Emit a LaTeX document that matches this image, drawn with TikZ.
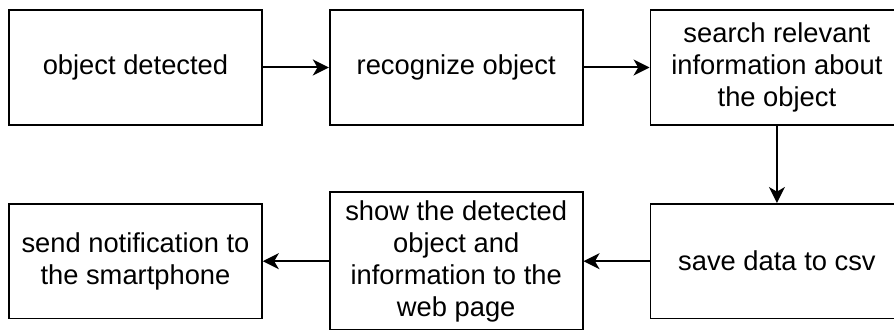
\documentclass[tikz,border=0pt]{standalone}
\usepackage{fontspec}
\setmainfont{Liberation Sans}
\usetikzlibrary{positioning,arrows.meta}

\tikzset{
  stepbox/.style={draw, line width=1.3pt, minimum width=189.75pt, minimum height=86pt,
    align=center, inner sep=2pt, font=\fontsize{20.5}{24}\selectfont},
  flow/.style={line width=1.5pt, -{Stealth[length=12pt,width=12pt,inset=3.5pt]}}
}

\begin{document}
\begin{tikzpicture}[node distance=49.5pt and 49.5pt]
\useasboundingbox (0,0) rectangle (670.5pt,-246.75pt);
\node[stepbox] (detect) at (101.6pt,-50.6pt) {object detected};
\node[stepbox, right=of detect] (recog) {recognize object};
\node[stepbox, right=of recog] (search) {search relevant\\information about\\the object};
\node[stepbox, below=58pt of search] (save) {save data to csv};
\node[stepbox, left=of save, minimum height=103.5pt] (show) {show the detected\\object and\\information to the\\web page};
\node[stepbox, left=of show] (notify) {send notification to\\the smartphone};

\draw[flow] (detect) -- (recog);
\draw[flow] (recog) -- (search);
\draw[flow] (search) -- (save);
\draw[flow] (save) -- (show);
\draw[flow] (show) -- (notify);
\end{tikzpicture}
\end{document}
